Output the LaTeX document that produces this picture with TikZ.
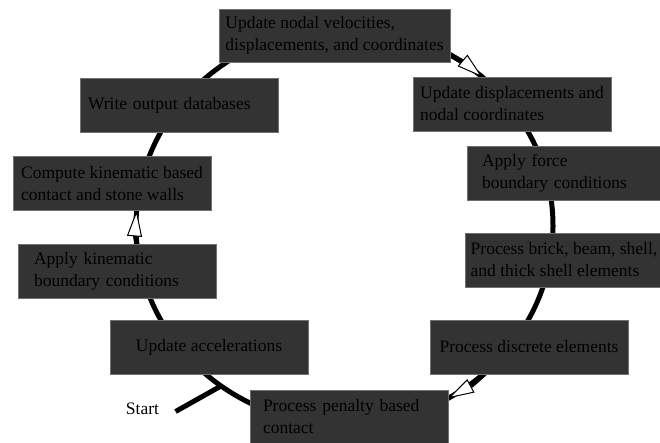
\documentclass[tikz,border=0pt]{standalone}
\usepackage{fontspec}
\setmainfont{Liberation Serif}
\usetikzlibrary{arrows.meta, calc}
\definecolor{boxfill}{RGB}{51,51,51}
\definecolor{boxline}{RGB}{112,112,112}

\begin{document}
\begin{tikzpicture}[x=1pt, y=-1pt, ring/.style = {line width=5pt},
        flow/.style = {ring, -{Triangle[fill=white, length=26pt, width=15pt, line width=1pt]}},
        box/.style = {draw=boxline, fill=boxfill, line width=0.8pt, minimum width=198pt, minimum height=54pt, align=left, font=\fontsize{17.5}{22}\selectfont}]
        \useasboundingbox (0,0) rectangle (660,442);
        \coordinate (c) at (344.5,226);
        \coordinate (a1) at ($(c)+(-62:208.5 and 198.5)$);
        \coordinate (a2) at ($(c)+(170:208.5 and 198.5)$);
        \coordinate (a3) at ($(c)+(40:208.5 and 198.5)$);
        \coordinate (entry) at ($(c)+(126.3:208.5 and 198.5)$);
        \draw[ring] (c) ellipse [x radius=208.5, y radius=198.5];
        \draw[flow] (a1) arc[start angle=-62, end angle=-48.6, x radius=208.5, y radius=198.5];
        \draw[flow] (a2) arc[start angle=170, end angle=184.5, x radius=208.5, y radius=198.5];
        \draw[flow] (a3) arc[start angle=40, end angle=60.2, x radius=208.5, y radius=198.5];
        \node[box, minimum width=231pt, minimum height=53pt] (vel) at (334.5,35.5) {Update nodal velocities,\\displacements, and coordinates};
        \node[box] (disp) at (512,104) {Update displacements and\\nodal coordinates};
        \node[box, text width=168pt, inner xsep=15pt] (force) at (566,173) {Apply force\\boundary conditions};
        \node[box] (elem) at (564,260) {Process brick, beam, shell,\\and thick shell elements};
        \node[box] (discrete) at (529,347) {Process discrete elements};
        \node[box, text width=172pt, inner xsep=13pt] (penalty) at (349,417) {Process penalty based\\contact};
        \node[box] (accel) at (209,347) {Update accelerations};
        \node[box, text width=166pt, inner xsep=16pt] (kinbc) at (117,271) {Apply kinematic\\boundary conditions};
        \node[box] (kincontact) at (112,183.5) {Compute kinematic based\\contact and stone walls};
        \node[box, text width=182pt, inner xsep=8pt] (output) at (179,105.5) {Write output databases};
        \node[font=\fontsize{17.5}{22}\selectfont] (start) at (142.5,408.5) {Start};
        \draw[ring] (start.east) ++(13pt,-3pt) coordinate (go) (go) -- (entry);
    \end{tikzpicture}
\end{document}
